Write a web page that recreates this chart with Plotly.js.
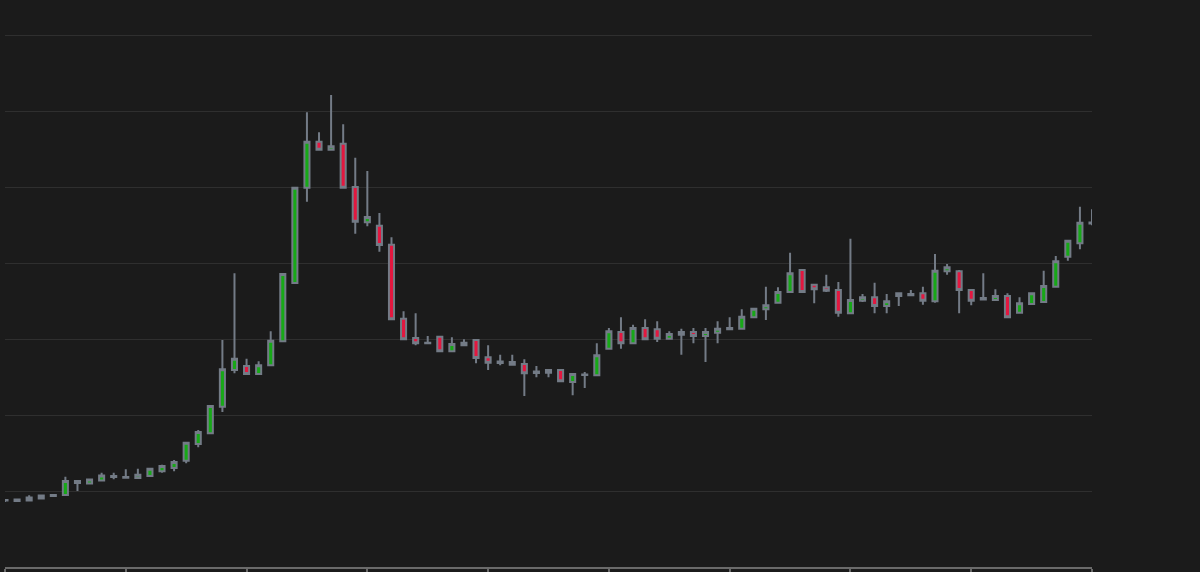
<!DOCTYPE html>
<html>
<head>
<meta charset="utf-8">
<script src="https://cdn.plot.ly/plotly-3.0.1.min.js"></script>
<style>
  html, body { margin: 0; padding: 0; background: #1b1b1b; }
  #chart { width: 1200px; height: 572px; }
</style>
</head>
<body>
<div id="chart"></div>
<script>
// Period index (one candle per period)
const periods = Array.from({length: 91}, (_, i) => i);

const openValues = [
  87.5, 86.8, 87.5, 90.1, 93.4, 94.7, 113.2, 109.9, 113.8, 118.4,
  117.4, 117.1, 119.7, 125.9, 130.3, 139.9, 161.8, 175.9, 210.9, 259.2,
  264.5, 253.9, 265.4, 297.0, 373.7, 499.1, 559.6, 549.1, 557.0, 500.0,
  453.6, 449.1, 424.1, 326.7, 301.3, 295.1, 303.0, 283.8, 291.7, 298.7,
  275.9, 270.4, 269.7, 267.1, 257.2, 259.2, 259.2, 243.4, 253.3, 252.2,
  287.2, 309.2, 294.3, 314.5, 312.8, 300.4, 305.7, 309.2, 303.9, 308.3,
  312.8, 313.6, 328.6, 339.1, 347.8, 361.8, 390.8, 371.4, 368.0, 364.5,
  333.8, 350.4, 354.9, 343.4, 360.1, 357.5, 360.1, 349.6, 389.1, 389.1,
  364.5, 353.9, 351.3, 356.6, 334.6, 346.1, 348.7, 368.8, 408.3, 425.9,
  453.3
];
const highValues = [
  89.5, 89.9, 94.3, 94.7, 95.4, 118.8, 114.5, 115.8, 124.1, 124.1,
  128.6, 129.3, 130.3, 134.6, 140.8, 164.5, 180.3, 213.2, 298.7, 386.4,
  274.1, 270.7, 310.1, 386.8, 500.0, 598.3, 572.0, 621.1, 582.5, 538.6,
  521.1, 465.8, 433.8, 336.4, 333.8, 303.9, 303.0, 302.2, 299.6, 299.3,
  291.7, 279.3, 279.3, 273.3, 264.5, 259.5, 259.9, 254.9, 256.6, 294.3,
  314.5, 328.6, 318.8, 325.9, 323.3, 310.1, 313.6, 314.5, 314.5, 323.3,
  328.6, 339.1, 339.9, 368.8, 368.0, 413.6, 390.8, 372.4, 384.6, 375.0,
  432.0, 359.2, 374.1, 359.2, 360.5, 364.5, 368.8, 411.8, 398.7, 390.8,
  364.5, 386.4, 365.4, 360.1, 354.9, 360.1, 389.9, 409.2, 430.3, 474.1,
  470.7
];
const lowValues = [
  85.5, 86.4, 87.2, 89.5, 92.5, 94.3, 100.0, 109.2, 113.6, 115.4,
  117.1, 116.9, 118.4, 124.1, 125.9, 136.4, 157.5, 175.0, 203.9, 254.9,
  253.9, 253.9, 265.4, 297.0, 373.7, 480.7, 549.1, 549.1, 499.1, 438.6,
  448.3, 414.9, 325.9, 299.6, 291.7, 294.3, 283.8, 283.8, 291.7, 268.0,
  259.2, 265.4, 266.2, 225.0, 249.6, 249.6, 244.3, 225.9, 235.5, 252.2,
  287.2, 287.2, 294.3, 299.6, 296.1, 300.4, 279.3, 294.3, 269.7, 294.3,
  312.8, 313.6, 328.6, 325.0, 347.8, 361.8, 361.8, 347.0, 361.8, 329.3,
  333.8, 348.7, 333.8, 333.8, 343.4, 357.5, 345.1, 347.8, 384.6, 333.8,
  344.3, 351.3, 351.3, 328.6, 334.6, 346.1, 348.7, 368.8, 403.0, 418.0,
  449.6
];
const closeValues = [
  88.2, 88.8, 91.4, 94.1, 94.7, 113.2, 110.5, 115.1, 120.4, 119.7,
  118.4, 121.4, 129.3, 132.9, 138.2, 163.6, 177.6, 211.8, 260.1, 274.1,
  253.9, 265.4, 297.8, 385.5, 499.1, 559.6, 549.1, 553.6, 499.1, 454.3,
  460.5, 423.7, 325.9, 299.6, 294.3, 294.3, 283.8, 293.4, 295.1, 275.0,
  268.8, 268.4, 266.2, 254.9, 255.3, 255.7, 244.3, 253.9, 252.6, 278.6,
  310.1, 294.3, 314.5, 299.6, 300.4, 306.6, 309.2, 303.9, 309.2, 313.6,
  314.5, 329.3, 339.9, 344.3, 361.8, 386.4, 361.8, 365.4, 363.6, 334.6,
  351.3, 354.9, 343.4, 349.6, 356.6, 359.2, 350.4, 389.9, 394.3, 364.5,
  350.4, 352.0, 356.6, 328.6, 347.0, 360.1, 369.7, 402.2, 429.3, 453.0,
  452.0
];

const outline = '#737b86';

const trace = {
  type: 'candlestick',
  x: periods,
  open: openValues,
  high: highValues,
  low: lowValues,
  close: closeValues,
  increasing: { fillcolor: '#17a817', line: { color: outline, width: 2 } },
  decreasing: { fillcolor: '#e3173f', line: { color: outline, width: 2 } },
  whiskerwidth: 0,
  hoverinfo: 'skip',
  showlegend: false
};

const layout = {
  width: 1200,
  height: 572,
  paper_bgcolor: '#1b1b1b',
  plot_bgcolor: '#1b1b1b',
  margin: { l: 5, r: 108, t: 0, b: 5, pad: 0 },
  showlegend: false,
  boxgap: 0.4,
  xaxis: {
    type: 'linear',
    range: [0, 90],
    tick0: 0,
    dtick: 10,
    showticklabels: false,
    ticks: 'outside',
    ticklen: 6,
    tickwidth: 2,
    tickcolor: '#6a6a6a',
    showline: true,
    linecolor: '#6a6a6a',
    linewidth: 2,
    showgrid: false,
    zeroline: false,
    rangeslider: { visible: false },
    fixedrange: true
  },
  yaxis: {
    range: [0, 746.05],
    tick0: 0,
    dtick: 100,
    showticklabels: false,
    showgrid: true,
    gridcolor: '#2f2f2f',
    gridwidth: 1,
    zeroline: false,
    showline: false,
    ticks: '',
    fixedrange: true
  },
  hovermode: false
};

Plotly.newPlot('chart', [trace], layout, { displayModeBar: false, staticPlot: true });
</script>
</body>
</html>
